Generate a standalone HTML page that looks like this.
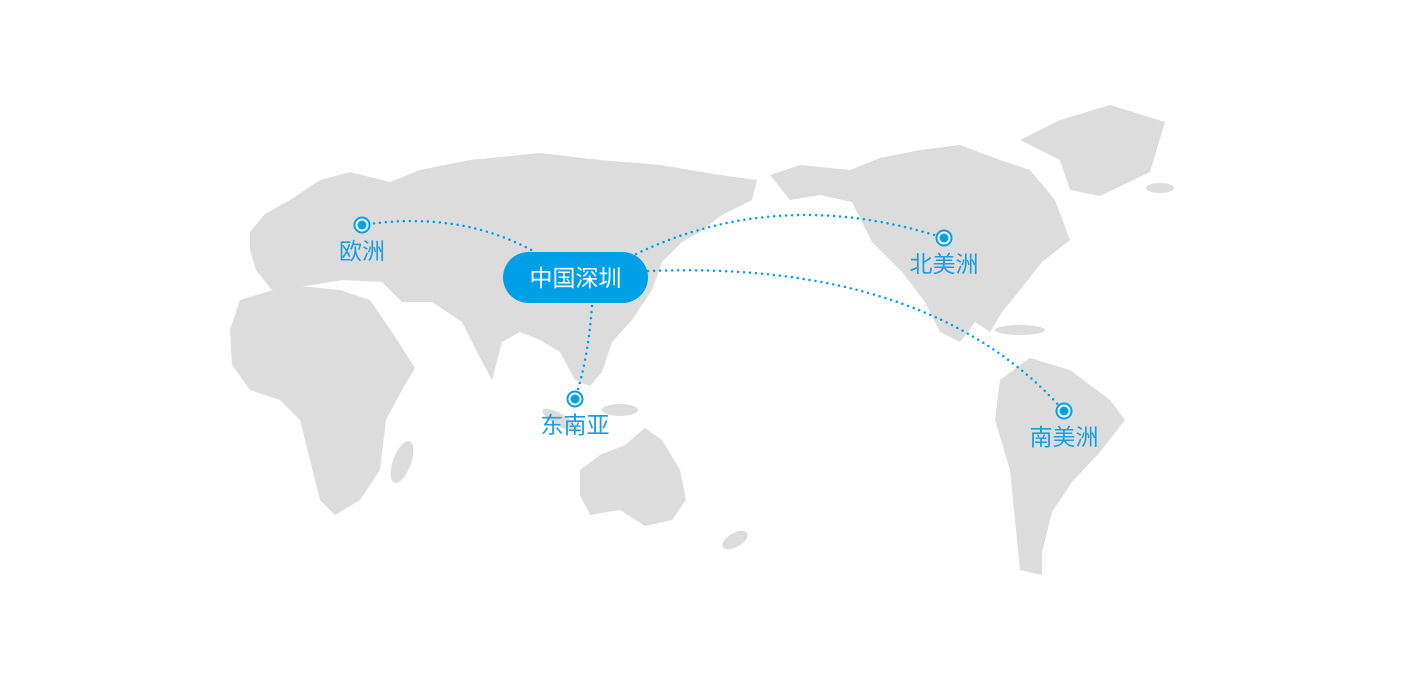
<!DOCTYPE html>
<html><head><meta charset="utf-8"><style>
html,body{margin:0;padding:0;background:#fff;width:1406px;height:683px;overflow:hidden}
svg{display:block}
text{font-family:"Liberation Sans","Noto Sans CJK SC",sans-serif}
</style></head><body>
<svg width="1406" height="683" viewBox="0 0 1406 683">
<g fill="#dcdcdc">
<path d="M250,232 L265,214 L290,200 L320,180 L350,172 L390,182 L420,170 L470,160 L540,153 L600,160 L660,165 L720,175 L757,180 L752,200 L722,215 L700,232 L682,242 L662,262 L652,290 L632,320 L612,342 L602,372 L590,386 L575,380 L560,352 L540,340 L520,332 L502,342 L492,380 L477,352 L462,322 L432,302 L402,302 L382,282 L342,280 L312,285 L272,290 L256,270 L250,250Z"/>
<path d="M240,300 L290,285 L340,290 L370,300 L392,332 L415,368 L402,390 L386,420 L380,470 L360,500 L335,515 L320,500 L310,460 L300,420 L280,400 L250,390 L232,365 L230,330Z"/>
<ellipse cx="402" cy="462" rx="9" ry="22" transform="rotate(20 402 462)"/>
<path d="M580,470 L600,455 L625,445 L645,428 L662,440 L680,470 L686,500 L672,520 L645,526 L620,510 L590,515 L580,495Z"/>
<ellipse cx="735" cy="540" rx="14" ry="7" transform="rotate(-30 735 540)"/>
<path d="M770,175 L800,165 L850,170 L880,158 L920,150 L960,145 L1000,160 L1030,170 L1055,200 L1070,240 L1042,262 L1020,290 L1002,312 L990,332 L975,322 L960,342 L940,332 L925,302 L902,272 L872,242 L852,202 L820,195 L790,200Z"/>
<path d="M1020,140 L1060,120 L1110,105 L1165,122 L1150,172 L1100,196 L1070,190 L1060,160Z"/>
<path d="M1000,380 L1030,358 L1070,370 L1110,400 L1125,420 L1100,452 L1072,482 L1052,512 L1042,552 L1042,575 L1020,570 L1015,520 L1010,470 L995,420Z"/>
<ellipse cx="620" cy="410" rx="18" ry="6"/>
<ellipse cx="560" cy="420" rx="20" ry="6" transform="rotate(30 560 420)"/>
<ellipse cx="1020" cy="330" rx="25" ry="5"/>
<ellipse cx="1160" cy="188" rx="14" ry="5"/>
</g>
<g fill="none" stroke="#00a0e9" stroke-width="2.5" stroke-linecap="round" stroke-dasharray="0 6">
<path d="M362,225 Q460,210 535,252"/>
<path d="M636,254 Q780,185 944,238"/>
<path d="M648,271 Q930,260 1064,411"/>
<path d="M592,306 Q588,360 575,399"/>
</g>
<g fill="#00a0e9" stroke="#00a0e9">
<circle cx="362" cy="225" r="7.5" fill="#fff" stroke-width="2"/><circle cx="362" cy="225" r="4.5" stroke="none"/>
<circle cx="944" cy="238" r="7.5" fill="#fff" stroke-width="2"/><circle cx="944" cy="238" r="4.5" stroke="none"/>
<circle cx="575" cy="399" r="7.5" fill="#fff" stroke-width="2"/><circle cx="575" cy="399" r="4.5" stroke="none"/>
<circle cx="1064" cy="411" r="7.5" fill="#fff" stroke-width="2"/><circle cx="1064" cy="411" r="4.5" stroke="none"/>
</g>
<rect x="503" y="252" width="145" height="51" rx="25.5" fill="#00a0e9"/>
<text x="575.5" y="286" font-size="23" fill="#fff" text-anchor="middle">中国深圳</text>
<g font-size="23" fill="#1a9ee0" text-anchor="middle">
<text x="362" y="259">欧洲</text>
<text x="944" y="272">北美洲</text>
<text x="575" y="433">东南亚</text>
<text x="1064" y="445">南美洲</text>
</g>
</svg>
</body></html>
